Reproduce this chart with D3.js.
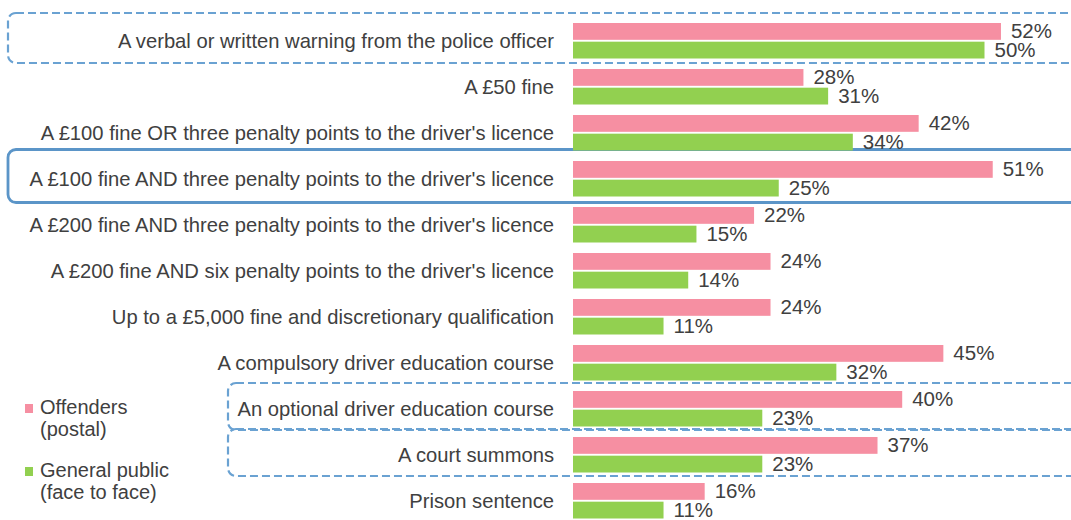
<!DOCTYPE html>
<html>
<head>
<meta charset="UTF-8">
<title>Penalty preferences</title>
<script src="https://cdnjs.cloudflare.com/ajax/libs/d3/7.8.5/d3.min.js"></script>
<style>
body { margin: 0; background: white; }
text { font-family: "Liberation Sans", Arial, sans-serif; fill: #404040; }
</style>
</head>
<body>
<script type="text/javascript">
var categories = [
  "A verbal or written warning from the police officer",
  "A \u00a350 fine",
  "A \u00a3100 fine OR three penalty points to the driver's licence",
  "A \u00a3100 fine AND three penalty points to the driver's licence",
  "A \u00a3200 fine AND three penalty points to the driver's licence",
  "A \u00a3200 fine AND six penalty points to the driver's licence",
  "Up to a \u00a35,000 fine and discretionary qualification",
  "A compulsory driver education course",
  "An optional driver education course",
  "A court summons",
  "Prison sentence"
]
var offenders = [52, 28, 42, 51, 22, 24, 24, 45, 40, 37, 16]
var publicFace = [50, 31, 34, 25, 15, 14, 11, 32, 23, 23, 11]
var seriesNames = ["Offenders (postal)", "General public (face to face)"]
var seriesColors = ["#f68fa2", "#92d050"]
// highlighted rows: [row index, dashed?, left edge]
var boxes = [[0, true, 8], [3, false, 8], [8, true, 228], [9, true, 228]]

var W = 1071, H = 520
var svg = d3.select("body").append("svg")
  .attr("width", W).attr("height", H)

var y = d3.scaleBand().domain(d3.range(categories.length))
  .range([17.5, 17.5 + 46 * categories.length]).padding(0)
var inner = d3.scaleBand().domain([0, 1]).range([5.5, 41]).paddingInner(0.1)
var x = d3.scaleLinear().domain([0, 60]).range([573, 573 + 60 * 8.23])

// boxes
boxes.forEach(function(b) {
  var top = y(b[0]) + (b[1] ? -2.5 : -6)
  var bot = y(b[0]) + (b[1] ? 44.5 : 47)
  if (b[0] == 0) { top = y(0) - 4.5; bot = y(0) + 45.5 }
  svg.append("rect")
    .attr("x", b[2]).attr("y", top)
    .attr("width", W + 20 - b[2]).attr("height", bot - top)
    .attr("rx", 8).attr("ry", 8)
    .attr("fill", "none")
    .attr("stroke", b[1] ? "#6aa2d2" : "#5b95c8")
    .attr("stroke-width", b[1] ? 2.2 : 2.8)
    .attr("stroke-dasharray", b[1] ? "8,4" : null)
})

var rows = svg.selectAll("g.row")
  .data(categories).enter()
  .append("g").attr("class", "row")
  .attr("transform", function(d, i) { return "translate(0," + y(i) + ")" })

rows.append("text")
  .attr("x", 554)
  .attr("y", y.bandwidth() / 2 + 7)
  .attr("text-anchor", "end")
  .style("font-size", "20.2px")
  .text(function(d) { return d })

var vals = [offenders, publicFace]
vals.forEach(function(series, s) {
  rows.append("rect")
    .attr("x", x(0))
    .attr("y", inner(s))
    .attr("width", function(d, i) { return x(series[i]) - x(0) })
    .attr("height", inner.bandwidth())
    .attr("fill", seriesColors[s])
  rows.append("text")
    .attr("x", function(d, i) { return x(series[i]) + 10 })
    .attr("y", inner(s) + inner.bandwidth() - 1.5)
    .style("font-size", "20.5px")
    .text(function(d, i) { return series[i] + "%" })
})

// legend
var legend = svg.append("g")
var legY = [414, 477]
seriesNames.forEach(function(name, s) {
  legend.append("rect")
    .attr("x", 25).attr("y", legY[s] - 10)
    .attr("width", 8).attr("height", 9)
    .attr("fill", seriesColors[s])
  var parts = s == 0 ? ["Offenders", "(postal)"] : ["General public", "(face to face)"]
  parts.forEach(function(p, k) {
    legend.append("text")
      .attr("x", 40).attr("y", legY[s] + k * 22)
      .style("font-size", "20px")
      .text(p)
  })
})
</script>
</body>
</html>
